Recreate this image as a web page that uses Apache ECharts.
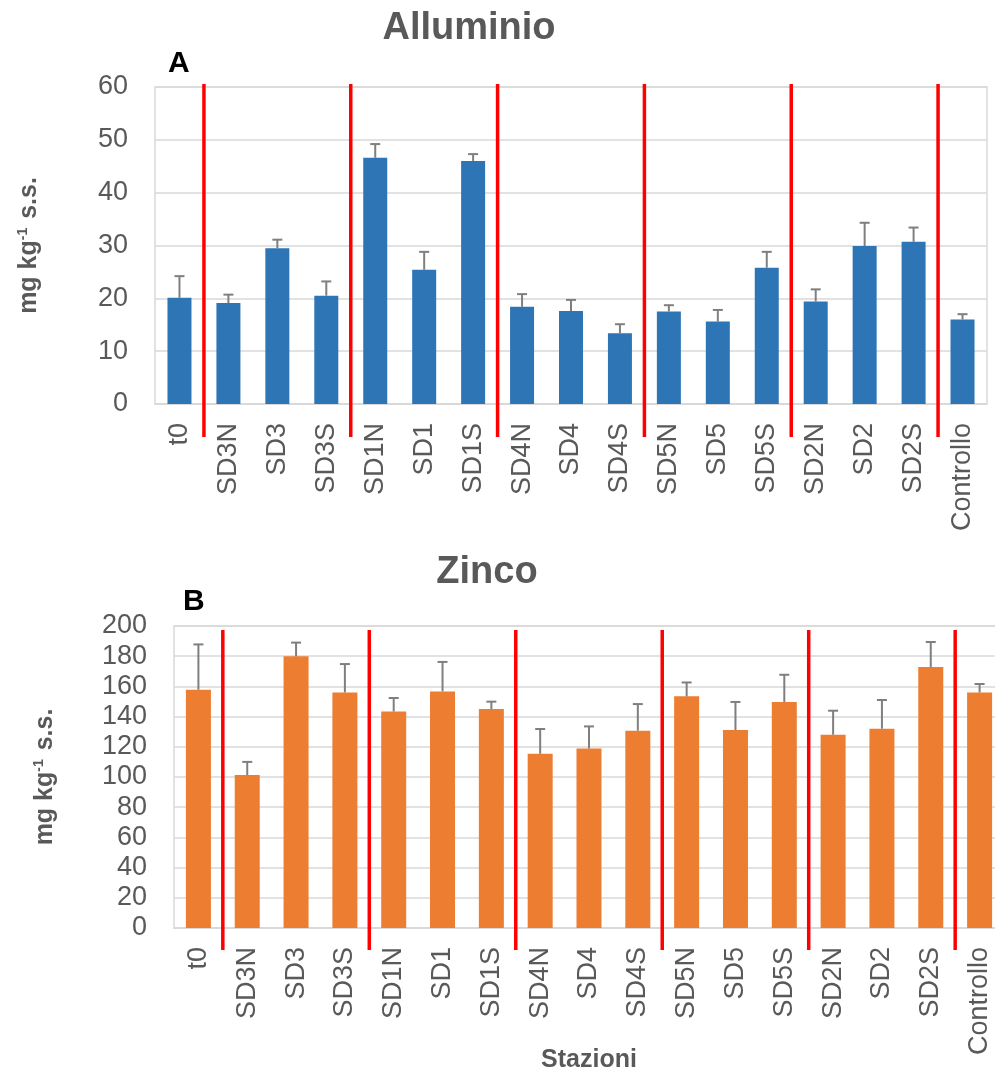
<!DOCTYPE html>
<html>
<head>
<meta charset="utf-8">
<script src="https://cdn.jsdelivr.net/npm/echarts@6/dist/echarts.min.js"></script>
<style>
  body { margin: 0; background: #fff; }
  #main { width: 995px; height: 1076px; }
</style>
</head>
<body>
<div id="main"></div>
<script>
// stazioni
let stazioni = ['t0', 'SD3N', 'SD3', 'SD3S', 'SD1N', 'SD1', 'SD1S', 'SD4N', 'SD4', 'SD4S', 'SD5N', 'SD5', 'SD5S', 'SD2N', 'SD2', 'SD2S', 'Controllo']

// Alluminio (mg/kg) + dev. std
let alluminio = [20.1, 19.1, 29.5, 20.5, 46.6, 25.4, 46.0, 18.4, 17.6, 13.4, 17.5, 15.6, 25.8, 19.4, 29.9, 30.7, 16.0]
let alluminioSd = [4.1, 1.6, 1.6, 2.7, 2.6, 3.4, 1.3, 2.4, 2.1, 1.7, 1.2, 2.2, 3.0, 2.3, 4.4, 2.7, 1.0]

// Zinco (mg/kg) + dev. std
let zinco = [157.8, 101.3, 179.9, 156.0, 143.4, 156.7, 145.0, 115.4, 118.9, 130.7, 153.4, 131.1, 149.7, 128.0, 132.0, 172.8, 156.0]
let zincoSd = [30.0, 8.7, 9.1, 18.8, 8.9, 19.5, 4.9, 16.4, 14.6, 17.6, 9.2, 18.6, 18.0, 15.9, 19.0, 16.6, 5.6]

// separatori rossi (prima di queste stazioni)
let separatori = [1, 4, 7, 10, 13, 16]

let yTicksA = { min: 0, max: 60, interval: 10 }
let yTicksB = { min: 0, max: 200, interval: 20 }

let font = "'Liberation Sans', Arial, sans-serif"
let grigio = '#595959'

function errorBars(idx, vals, sd) {
  return {
    type: 'custom',
    xAxisIndex: idx,
    yAxisIndex: idx,
    z: 5,
    data: vals.map((v, i) => [i, v, v + sd[i]]),
    renderItem: (params, api) => {
      let base = api.coord([api.value(0), api.value(1)])
      let top = api.coord([api.value(0), api.value(2)])
      let style = { stroke: '#7f7f7f', lineWidth: 2 }
      return {
        type: 'group',
        children: [
          { type: 'line', shape: { x1: base[0], y1: base[1], x2: top[0], y2: top[1] }, style },
          { type: 'line', shape: { x1: top[0] - 5, y1: top[1], x2: top[0] + 5, y2: top[1] }, style }
        ]
      }
    }
  }
}

function redLines(idx, ymax, offTop, offBottom) {
  return {
    type: 'custom',
    xAxisIndex: idx,
    yAxisIndex: idx,
    z: 6,
    clip: false,
    data: separatori.map(b => [b, 0]),
    renderItem: (params, api) => {
      let bw = api.size([1, 0])[0]
      let p0 = api.coord([api.value(0), 0])
      let p1 = api.coord([api.value(0), ymax])
      let x = p0[0] - bw / 2
      return {
        type: 'line',
        shape: { x1: x, y1: p1[1] + offTop, x2: x, y2: p0[1] + offBottom },
        style: { stroke: '#ff0000', lineWidth: 3.5 }
      }
    }
  }
}

function xAxisOf(idx, extra) {
  return Object.assign({
    type: 'category',
    gridIndex: idx,
    data: stazioni,
    axisTick: { show: false },
    axisLine: { lineStyle: { color: '#d9d9d9', width: 1.5 } },
    axisLabel: { rotate: 90, interval: 0, margin: 19, fontFamily: font, fontSize: 27, color: grigio }
  }, extra || {})
}

function yAxisOf(idx, ticks, gap, size) {
  return {
    type: 'value',
    gridIndex: idx,
    min: ticks.min,
    max: ticks.max,
    interval: ticks.interval,
    name: 'mg kg{sup|-1} s.s.',
    nameLocation: 'middle',
    nameRotate: 90,
    nameGap: gap,
    nameTextStyle: {
      fontFamily: font,
      fontSize: 25,
      fontWeight: 'bold',
      color: grigio,
      rich: { sup: { fontSize: 14, fontWeight: 'bold', color: grigio, verticalAlign: 'top', padding: [0, 2, 12, 0] } }
    },
    axisLine: { show: false },
    axisTick: { show: false },
    axisLabel: {
      margin: 27, fontFamily: font, fontSize: size, color: grigio,
      showMinLabel: true, showMaxLabel: true, hideOverlap: false
    },
    splitLine: { lineStyle: { color: '#d9d9d9', width: 1.5 } }
  }
}

let myChart = echarts.init(document.getElementById('main'))

let option = {
  animation: false,
  backgroundColor: '#fff',
  title: [
    { text: 'Alluminio', left: 469, top: 10, textAlign: 'center', padding: 0,
      textStyle: { fontFamily: font, fontSize: 38, fontWeight: 'bold', color: grigio } },
    { text: 'A', left: 168, top: 49, padding: 0,
      textStyle: { fontFamily: font, fontSize: 30, fontWeight: 'bold', color: '#000' } },
    { text: 'Zinco', left: 487, top: 554, textAlign: 'center', padding: 0,
      textStyle: { fontFamily: font, fontSize: 38, fontWeight: 'bold', color: grigio } },
    { text: 'B', left: 183, top: 587, padding: 0,
      textStyle: { fontFamily: font, fontSize: 30, fontWeight: 'bold', color: '#000' } }
  ],
  grid: [
    { left: 155, top: 87, width: 832, height: 317, outerBoundsMode: 'none', show: true, borderColor: '#d9d9d9', borderWidth: 1.5 },
    { left: 174, top: 626, width: 830, height: 302, outerBoundsMode: 'none', show: true, borderColor: '#d9d9d9', borderWidth: 1.5 }
  ],
  xAxis: [
    xAxisOf(0),
    xAxisOf(1, {
      name: 'Stazioni',
      nameLocation: 'middle',
      nameGap: 120,
      nameMoveOverlap: false,
      nameTextStyle: { fontFamily: font, fontSize: 25, fontWeight: 'bold', color: grigio }
    })
  ],
  yAxis: [
    yAxisOf(0, yTicksA, 113, 27),
    yAxisOf(1, yTicksB, 116, 27)
  ],
  series: [
    { type: 'bar', xAxisIndex: 0, yAxisIndex: 0, data: alluminio, barWidth: 24, itemStyle: { color: '#2e75b6' } },
    errorBars(0, alluminio, alluminioSd),
    redLines(0, yTicksA.max, -3, 33),
    { type: 'bar', xAxisIndex: 1, yAxisIndex: 1, data: zinco, barWidth: 25, itemStyle: { color: '#ed7d31' } },
    errorBars(1, zinco, zincoSd),
    redLines(1, yTicksB.max, 4, 22)
  ]
}

myChart.setOption(option)
</script>
</body>
</html>
